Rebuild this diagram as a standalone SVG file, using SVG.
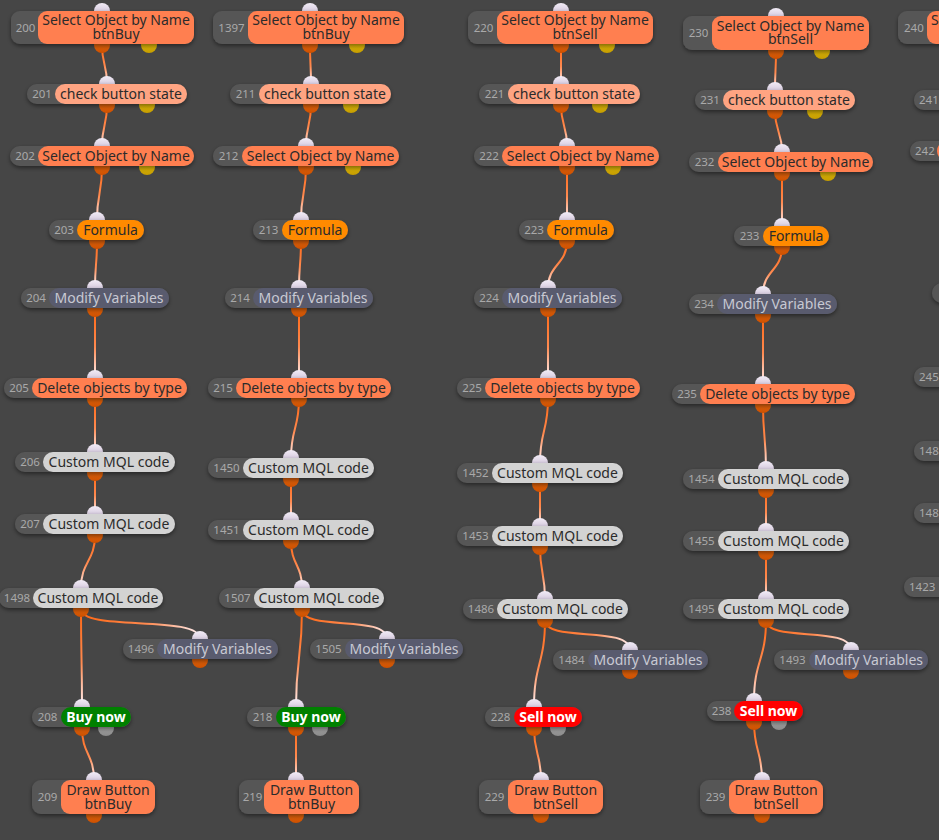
<svg xmlns="http://www.w3.org/2000/svg" width="939" height="840" viewBox="0 0 939 840">
<style>
.bg{fill:#464646}
.idp{fill:#575757;filter:url(#sh)}
.coral{fill:#ff7f50}
.salmon{fill:#ffa482}
.formula{fill:#ff8a00}
.mod{fill:#595b6e}
.mql{fill:#d3d3d3}
.buy{fill:#008000}
.sell{fill:#ff0000}
.pin{fill:url(#gin)}
.pout{fill:url(#gout)}
.py{fill:url(#gy)}
.pg{fill:url(#gg)}
.wire{fill:none;stroke-width:2;stroke-linecap:round}
text{font-family:"Noto Sans","Open Sans","DejaVu Sans",sans-serif}
.id{font-size:11.5px;fill:#a9a9a9;text-anchor:middle}
.ids{font-size:11.5px;fill:#a9a9a9}
.lb{font-size:14px;fill:#2b2b2b;text-anchor:middle}
.lm{fill:#c8c9d3}
.lw{fill:#fff;font-weight:bold}
</style>
<defs>
<filter id="sh" x="-10%" y="-30%" width="120%" height="180%"><feDropShadow dx="0" dy="2" stdDeviation="2" flood-color="#000" flood-opacity="0.45"/></filter>
<linearGradient id="gin" x1="0" y1="0" x2="0" y2="1"><stop offset="0" stop-color="#f2ecf6"/><stop offset="0.5" stop-color="#d8cde0"/><stop offset="1" stop-color="#9d8ea8"/></linearGradient>
<linearGradient id="gout" x1="0" y1="0" x2="0" y2="1"><stop offset="0" stop-color="#f47416"/><stop offset="1" stop-color="#cc5000"/></linearGradient>
<linearGradient id="gy" x1="0" y1="0" x2="0" y2="1"><stop offset="0" stop-color="#f4cf10"/><stop offset="1" stop-color="#c49c00"/></linearGradient>
<linearGradient id="gg" x1="0" y1="0" x2="0" y2="1"><stop offset="0" stop-color="#bdbdbd"/><stop offset="1" stop-color="#8a8a8a"/></linearGradient>
<linearGradient id="wg"><stop offset="0" stop-color="#ff6612"/><stop offset="0.55" stop-color="#ff8a50"/><stop offset="1" stop-color="#fff2f6"/></linearGradient>
<linearGradient id="w1" href="#wg" gradientUnits="userSpaceOnUse" x1="0" y1="45" x2="0" y2="84"/>
<linearGradient id="w2" href="#wg" gradientUnits="userSpaceOnUse" x1="0" y1="105" x2="0" y2="146"/>
<linearGradient id="w3" href="#wg" gradientUnits="userSpaceOnUse" x1="0" y1="167" x2="0" y2="220"/>
<linearGradient id="w4" href="#wg" gradientUnits="userSpaceOnUse" x1="0" y1="241" x2="0" y2="288"/>
<linearGradient id="w5" href="#wg" gradientUnits="userSpaceOnUse" x1="0" y1="309" x2="0" y2="378"/>
<linearGradient id="w6" href="#wg" gradientUnits="userSpaceOnUse" x1="0" y1="399" x2="0" y2="452"/>
<linearGradient id="w7" href="#wg" gradientUnits="userSpaceOnUse" x1="0" y1="473" x2="0" y2="514"/>
<linearGradient id="w8" href="#wg" gradientUnits="userSpaceOnUse" x1="0" y1="535" x2="0" y2="588"/>
<linearGradient id="w9" href="#wg" gradientUnits="userSpaceOnUse" x1="0" y1="609" x2="0" y2="707"/>
<linearGradient id="w10" href="#wg" gradientUnits="userSpaceOnUse" x1="81" y1="609" x2="200" y2="639"/>
<linearGradient id="w11" href="#wg" gradientUnits="userSpaceOnUse" x1="0" y1="728" x2="0" y2="780"/>
<linearGradient id="w15" href="#wg" gradientUnits="userSpaceOnUse" x1="0" y1="399" x2="0" y2="458"/>
<linearGradient id="w16" href="#wg" gradientUnits="userSpaceOnUse" x1="0" y1="479" x2="0" y2="520"/>
<linearGradient id="w17" href="#wg" gradientUnits="userSpaceOnUse" x1="0" y1="541" x2="0" y2="588"/>
<linearGradient id="w21" href="#wg" gradientUnits="userSpaceOnUse" x1="302" y1="609" x2="387" y2="639"/>
<linearGradient id="w28" href="#wg" gradientUnits="userSpaceOnUse" x1="0" y1="399" x2="0" y2="463"/>
<linearGradient id="w29" href="#wg" gradientUnits="userSpaceOnUse" x1="0" y1="484" x2="0" y2="526"/>
<linearGradient id="w30" href="#wg" gradientUnits="userSpaceOnUse" x1="0" y1="547" x2="0" y2="599"/>
<linearGradient id="w31" href="#wg" gradientUnits="userSpaceOnUse" x1="0" y1="620" x2="0" y2="707"/>
<linearGradient id="w32" href="#wg" gradientUnits="userSpaceOnUse" x1="545" y1="620" x2="630" y2="650"/>
<linearGradient id="w34" href="#wg" gradientUnits="userSpaceOnUse" x1="0" y1="51" x2="0" y2="90"/>
<linearGradient id="w35" href="#wg" gradientUnits="userSpaceOnUse" x1="0" y1="111" x2="0" y2="152"/>
<linearGradient id="w36" href="#wg" gradientUnits="userSpaceOnUse" x1="0" y1="173" x2="0" y2="226"/>
<linearGradient id="w37" href="#wg" gradientUnits="userSpaceOnUse" x1="0" y1="247" x2="0" y2="294"/>
<linearGradient id="w38" href="#wg" gradientUnits="userSpaceOnUse" x1="0" y1="315" x2="0" y2="384"/>
<linearGradient id="w39" href="#wg" gradientUnits="userSpaceOnUse" x1="0" y1="405" x2="0" y2="469"/>
<linearGradient id="w40" href="#wg" gradientUnits="userSpaceOnUse" x1="0" y1="490" x2="0" y2="531"/>
<linearGradient id="w41" href="#wg" gradientUnits="userSpaceOnUse" x1="0" y1="552" x2="0" y2="599"/>
<linearGradient id="w42" href="#wg" gradientUnits="userSpaceOnUse" x1="0" y1="620" x2="0" y2="701"/>
<linearGradient id="w43" href="#wg" gradientUnits="userSpaceOnUse" x1="766" y1="620" x2="851" y2="650"/>
<linearGradient id="w44" href="#wg" gradientUnits="userSpaceOnUse" x1="0" y1="722" x2="0" y2="780"/>
</defs>
<rect class="bg" x="0" y="0" width="939" height="840"/>

<g id="connectors" class="wire">
<path stroke="url(#w1)" d="M102 45 C102 64.5 107 64.5 107 84"/>
<path stroke="url(#w2)" d="M107 105 C107 125.5 102 125.5 102 146"/>
<path stroke="url(#w3)" d="M102 167 C102 193.5 97 193.5 97 220"/>
<path stroke="url(#w4)" d="M97 241 C97 264.5 95 264.5 95 288"/>
<path stroke="url(#w5)" d="M95 309 C95 343.5 95 343.5 95 378"/>
<path stroke="url(#w6)" d="M95 399 C95 425.5 95 425.5 95 452"/>
<path stroke="url(#w7)" d="M95 473 C95 493.5 95 493.5 95 514"/>
<path stroke="url(#w8)" d="M95 535 C95 561.5 81 561.5 81 588"/>
<path stroke="url(#w9)" d="M81 609 C81 658 82 658 82 707"/>
<path stroke="url(#w10)" d="M81 609 C81 632 200 614 200 639"/>
<path stroke="url(#w11)" d="M82 728 C82 754 94 754 94 780"/>

<path stroke="url(#w1)" d="M310 45 C310 64.5 311 64.5 311 84"/>
<path stroke="url(#w2)" d="M311 105 C311 125.5 306 125.5 306 146"/>
<path stroke="url(#w3)" d="M306 167 C306 193.5 301 193.5 301 220"/>
<path stroke="url(#w4)" d="M301 241 C301 264.5 299 264.5 299 288"/>
<path stroke="url(#w5)" d="M299 309 C299 343.5 299 343.5 299 378"/>
<path stroke="url(#w15)" d="M299 399 C299 428.5 291 428.5 291 458"/>
<path stroke="url(#w16)" d="M291 479 C291 499.5 291 499.5 291 520"/>
<path stroke="url(#w17)" d="M291 541 C291 564.5 302 564.5 302 588"/>
<path stroke="url(#w9)" d="M302 609 C302 658 296 658 296 707"/>
<path stroke="url(#w21)" d="M302 609 C302 632 387 614 387 639"/>
<path stroke="url(#w11)" d="M296 728 C296 754 296 754 296 780"/>

<path stroke="url(#w1)" d="M561 45 C561 64.5 561 64.5 561 84"/>
<path stroke="url(#w2)" d="M561 105 C561 125.5 567 125.5 567 146"/>
<path stroke="url(#w3)" d="M567 167 C567 193.5 567 193.5 567 220"/>
<path stroke="url(#w4)" d="M567 241 C567 264.5 548 264.5 548 288"/>
<path stroke="url(#w5)" d="M548 309 C548 343.5 548 343.5 548 378"/>
<path stroke="url(#w28)" d="M548 399 C548 431 540 431 540 463"/>
<path stroke="url(#w29)" d="M540 484 C540 505 540 505 540 526"/>
<path stroke="url(#w30)" d="M540 547 C540 573 545 573 545 599"/>
<path stroke="url(#w31)" d="M545 620 C545 663.5 534 663.5 534 707"/>
<path stroke="url(#w32)" d="M545 620 C545 643 630 625 630 650"/>
<path stroke="url(#w11)" d="M534 728 C534 754 541 754 541 780"/>

<path stroke="url(#w34)" d="M776 51 C776 70.5 775 70.5 775 90"/>
<path stroke="url(#w35)" d="M775 111 C775 131.5 782 131.5 782 152"/>
<path stroke="url(#w36)" d="M782 173 C782 199.5 782 199.5 782 226"/>
<path stroke="url(#w37)" d="M782 247 C782 270.5 763 270.5 763 294"/>
<path stroke="url(#w38)" d="M763 315 C763 349.5 763 349.5 763 384"/>
<path stroke="url(#w39)" d="M763 405 C763 437 766 437 766 469"/>
<path stroke="url(#w40)" d="M766 490 C766 510.5 766 510.5 766 531"/>
<path stroke="url(#w41)" d="M766 552 C766 575.5 766 575.5 766 599"/>
<path stroke="url(#w42)" d="M766 620 C766 660.5 754 660.5 754 701"/>
<path stroke="url(#w43)" d="M766 620 C766 643 851 625 851 650"/>
<path stroke="url(#w44)" d="M754 722 C754 751 762 751 762 780"/>
</g>

<!-- Column 1 -->
<g id="n200"><circle class="pin" cx="102" cy="11" r="8"/><circle class="pout" cx="102" cy="45" r="8"/><circle class="py" cx="149" cy="45" r="8"/>
<rect class="idp" x="11" y="11" width="183" height="33" rx="9"/><rect class="coral" x="38" y="11" width="156" height="33" rx="9"/>
<text class="id" x="25.5" y="31.5">200</text><text class="lb" y="25"><tspan x="116">Select Object by Name</tspan><tspan x="116" dy="13.5">btnBuy</tspan></text></g>
<g id="n201"><circle class="pin" cx="107" cy="84" r="8"/><circle class="pout" cx="107" cy="105" r="8"/><circle class="py" cx="147" cy="105" r="8"/>
<rect class="idp" x="27" y="84" width="160" height="20" rx="10"/><rect class="salmon" x="55" y="84" width="132" height="20" rx="10"/>
<text class="id" x="42" y="98">201</text><text class="lb" x="121" y="99">check button state</text></g>
<g id="n202"><circle class="pin" cx="102" cy="146" r="8"/><circle class="pout" cx="102" cy="167" r="8"/><circle class="py" cx="147" cy="167" r="8"/>
<rect class="idp" x="10" y="146" width="184" height="20" rx="10"/><rect class="coral" x="38" y="146" width="156" height="20" rx="10"/>
<text class="id" x="25" y="160">202</text><text class="lb" x="116" y="161">Select Object by Name</text></g>
<g id="n203"><circle class="pin" cx="97" cy="220" r="8"/><circle class="pout" cx="97" cy="241" r="8"/>
<rect class="idp" x="49" y="220" width="95" height="20" rx="10"/><rect class="formula" x="77" y="220" width="67" height="20" rx="10"/>
<text class="id" x="64" y="234">203</text><text class="lb" x="110.5" y="235">Formula</text></g>
<g id="n204"><circle class="pin" cx="95" cy="288" r="8"/><circle class="pout" cx="95" cy="309" r="8"/>
<rect class="idp" x="21" y="288" width="148" height="20" rx="10"/><rect class="mod" x="49" y="288" width="120" height="20" rx="10"/>
<text class="id" x="36" y="302">204</text><text class="lb lm" x="109" y="303">Modify Variables</text></g>
<g id="n205"><circle class="pin" cx="95" cy="378" r="8"/><circle class="pout" cx="95" cy="399" r="8"/>
<rect class="idp" x="4" y="378" width="183" height="20" rx="10"/><rect class="coral" x="32" y="378" width="155" height="20" rx="10"/>
<text class="id" x="19" y="392">205</text><text class="lb" x="109.5" y="393">Delete objects by type</text></g>
<g id="n206"><circle class="pin" cx="95" cy="452" r="8"/><circle class="pout" cx="95" cy="473" r="8"/>
<rect class="idp" x="15" y="452" width="160" height="20" rx="10"/><rect class="mql" x="43" y="452" width="132" height="20" rx="10"/>
<text class="id" x="30" y="466">206</text><text class="lb" x="109" y="467">Custom MQL code</text></g>
<g id="n207"><circle class="pin" cx="95" cy="514" r="8"/><circle class="pout" cx="95" cy="535" r="8"/>
<rect class="idp" x="15" y="514" width="160" height="20" rx="10"/><rect class="mql" x="43" y="514" width="132" height="20" rx="10"/>
<text class="id" x="30" y="528">207</text><text class="lb" x="109" y="529">Custom MQL code</text></g>
<g id="n1498"><circle class="pin" cx="81" cy="588" r="8"/><circle class="pout" cx="81" cy="609" r="8"/>
<rect class="idp" x="-1" y="588" width="164" height="20" rx="10"/><rect class="mql" x="33" y="588" width="130" height="20" rx="10"/>
<text class="id" x="17" y="602">1498</text><text class="lb" x="98" y="603">Custom MQL code</text></g>
<g id="n1496"><circle class="pin" cx="200" cy="639" r="8"/><circle class="pout" cx="200" cy="660" r="8"/>
<rect class="idp" x="123" y="639" width="155" height="20" rx="10"/><rect class="mod" x="157" y="639" width="121" height="20" rx="10"/>
<text class="id" x="141" y="653">1496</text><text class="lb lm" x="217.5" y="654">Modify Variables</text></g>
<g id="n208"><circle class="pin" cx="82" cy="707" r="8"/><circle class="pout" cx="82" cy="728" r="8"/><circle class="pg" cx="106" cy="728" r="8"/>
<rect class="idp" x="32" y="707" width="99" height="20" rx="10"/><rect class="buy" x="61" y="707" width="70" height="20" rx="10"/>
<text class="id" x="47.5" y="721">208</text><text class="lb lw" x="96" y="722">Buy now</text></g>
<g id="n209"><circle class="pin" cx="94" cy="780" r="8"/><circle class="pout" cx="94" cy="815" r="8"/>
<rect class="idp" x="32" y="780" width="123" height="34" rx="9"/><rect class="coral" x="61" y="780" width="94" height="34" rx="9"/>
<text class="id" x="47.5" y="801">209</text><text class="lb" y="795"><tspan x="108">Draw Button</tspan><tspan x="108" dy="13.5">btnBuy</tspan></text></g>

<!-- Column 2 -->
<g id="n1397"><circle class="pin" cx="310" cy="11" r="8"/><circle class="pout" cx="310" cy="45" r="8"/><circle class="py" cx="357" cy="45" r="8"/>
<rect class="idp" x="213" y="11" width="191" height="33" rx="9"/><rect class="coral" x="248" y="11" width="156" height="33" rx="9"/>
<text class="id" x="231.5" y="31.5">1397</text><text class="lb" y="25"><tspan x="326">Select Object by Name</tspan><tspan x="326" dy="13.5">btnBuy</tspan></text></g>
<g id="n211"><circle class="pin" cx="311" cy="84" r="8"/><circle class="pout" cx="311" cy="105" r="8"/><circle class="py" cx="351" cy="105" r="8"/>
<rect class="idp" x="230" y="84" width="161" height="20" rx="10"/><rect class="salmon" x="259" y="84" width="132" height="20" rx="10"/>
<text class="id" x="245.5" y="98">211</text><text class="lb" x="325" y="99">check button state</text></g>
<g id="n212"><circle class="pin" cx="306" cy="146" r="8"/><circle class="pout" cx="306" cy="167" r="8"/><circle class="py" cx="353" cy="167" r="8"/>
<rect class="idp" x="213" y="146" width="186" height="20" rx="10"/><rect class="coral" x="242" y="146" width="157" height="20" rx="10"/>
<text class="id" x="228.5" y="160">212</text><text class="lb" x="320.5" y="161">Select Object by Name</text></g>
<g id="n213"><circle class="pin" cx="301" cy="220" r="8"/><circle class="pout" cx="301" cy="241" r="8"/>
<rect class="idp" x="253" y="220" width="95" height="20" rx="10"/><rect class="formula" x="282" y="220" width="66" height="20" rx="10"/>
<text class="id" x="268.5" y="234">213</text><text class="lb" x="315" y="235">Formula</text></g>
<g id="n214"><circle class="pin" cx="299" cy="288" r="8"/><circle class="pout" cx="299" cy="309" r="8"/>
<rect class="idp" x="225" y="288" width="148" height="20" rx="10"/><rect class="mod" x="253" y="288" width="120" height="20" rx="10"/>
<text class="id" x="240" y="302">214</text><text class="lb lm" x="313" y="303">Modify Variables</text></g>
<g id="n215"><circle class="pin" cx="299" cy="378" r="8"/><circle class="pout" cx="299" cy="399" r="8"/>
<rect class="idp" x="208" y="378" width="183" height="20" rx="10"/><rect class="coral" x="236" y="378" width="155" height="20" rx="10"/>
<text class="id" x="223" y="392">215</text><text class="lb" x="313.5" y="393">Delete objects by type</text></g>
<g id="n1450"><circle class="pin" cx="291" cy="458" r="8"/><circle class="pout" cx="291" cy="479" r="8"/>
<rect class="idp" x="208" y="458" width="166" height="20" rx="10"/><rect class="mql" x="243" y="458" width="131" height="20" rx="10"/>
<text class="id" x="226.5" y="472">1450</text><text class="lb" x="308.5" y="473">Custom MQL code</text></g>
<g id="n1451"><circle class="pin" cx="291" cy="520" r="8"/><circle class="pout" cx="291" cy="541" r="8"/>
<rect class="idp" x="208" y="520" width="166" height="20" rx="10"/><rect class="mql" x="243" y="520" width="131" height="20" rx="10"/>
<text class="id" x="226.5" y="534">1451</text><text class="lb" x="308.5" y="535">Custom MQL code</text></g>
<g id="n1507"><circle class="pin" cx="302" cy="588" r="8"/><circle class="pout" cx="302" cy="609" r="8"/>
<rect class="idp" x="219" y="588" width="165" height="20" rx="10"/><rect class="mql" x="254" y="588" width="130" height="20" rx="10"/>
<text class="id" x="237.5" y="602">1507</text><text class="lb" x="319" y="603">Custom MQL code</text></g>
<g id="n1505"><circle class="pin" cx="387" cy="639" r="8"/><circle class="pout" cx="387" cy="660" r="8"/>
<rect class="idp" x="310" y="639" width="153" height="20" rx="10"/><rect class="mod" x="345" y="639" width="118" height="20" rx="10"/>
<text class="id" x="328.5" y="653">1505</text><text class="lb lm" x="404" y="654">Modify Variables</text></g>
<g id="n218"><circle class="pin" cx="296" cy="707" r="8"/><circle class="pout" cx="296" cy="728" r="8"/><circle class="pg" cx="320" cy="728" r="8"/>
<rect class="idp" x="247" y="707" width="99" height="20" rx="10"/><rect class="buy" x="276" y="707" width="70" height="20" rx="10"/>
<text class="id" x="262.5" y="721">218</text><text class="lb lw" x="311" y="722">Buy now</text></g>
<g id="n219"><circle class="pin" cx="296" cy="780" r="8"/><circle class="pout" cx="296" cy="815" r="8"/>
<rect class="idp" x="239" y="780" width="120" height="34" rx="9"/><rect class="coral" x="264" y="780" width="95" height="34" rx="9"/>
<text class="id" x="252.5" y="801">219</text><text class="lb" y="795"><tspan x="311.5">Draw Button</tspan><tspan x="311.5" dy="13.5">btnBuy</tspan></text></g>

<!-- Column 3 -->
<g id="n220"><circle class="pin" cx="561" cy="11" r="8"/><circle class="pout" cx="561" cy="45" r="8"/><circle class="py" cx="607" cy="45" r="8"/>
<rect class="idp" x="468" y="11" width="185" height="33" rx="9"/><rect class="coral" x="497" y="11" width="156" height="33" rx="9"/>
<text class="id" x="483.5" y="31.5">220</text><text class="lb" y="25"><tspan x="575">Select Object by Name</tspan><tspan x="575" dy="13.5">btnSell</tspan></text></g>
<g id="n221"><circle class="pin" cx="561" cy="84" r="8"/><circle class="pout" cx="561" cy="105" r="8"/><circle class="py" cx="600" cy="105" r="8"/>
<rect class="idp" x="479" y="84" width="161" height="20" rx="10"/><rect class="salmon" x="508" y="84" width="132" height="20" rx="10"/>
<text class="id" x="494.5" y="98">221</text><text class="lb" x="574" y="99">check button state</text></g>
<g id="n222"><circle class="pin" cx="567" cy="146" r="8"/><circle class="pout" cx="567" cy="167" r="8"/><circle class="py" cx="613" cy="167" r="8"/>
<rect class="idp" x="474" y="146" width="185" height="20" rx="10"/><rect class="coral" x="502" y="146" width="157" height="20" rx="10"/>
<text class="id" x="489" y="160">222</text><text class="lb" x="580.5" y="161">Select Object by Name</text></g>
<g id="n223"><circle class="pin" cx="567" cy="220" r="8"/><circle class="pout" cx="567" cy="241" r="8"/>
<rect class="idp" x="519" y="220" width="95" height="20" rx="10"/><rect class="formula" x="547" y="220" width="67" height="20" rx="10"/>
<text class="id" x="534" y="234">223</text><text class="lb" x="580.5" y="235">Formula</text></g>
<g id="n224"><circle class="pin" cx="548" cy="288" r="8"/><circle class="pout" cx="548" cy="309" r="8"/>
<rect class="idp" x="474" y="288" width="148" height="20" rx="10"/><rect class="mod" x="502" y="288" width="120" height="20" rx="10"/>
<text class="id" x="489" y="302">224</text><text class="lb lm" x="562" y="303">Modify Variables</text></g>
<g id="n225"><circle class="pin" cx="548" cy="378" r="8"/><circle class="pout" cx="548" cy="399" r="8"/>
<rect class="idp" x="457" y="378" width="183" height="20" rx="10"/><rect class="coral" x="485" y="378" width="155" height="20" rx="10"/>
<text class="id" x="472" y="392">225</text><text class="lb" x="562.5" y="393">Delete objects by type</text></g>
<g id="n1452"><circle class="pin" cx="540" cy="463" r="8"/><circle class="pout" cx="540" cy="484" r="8"/>
<rect class="idp" x="457" y="463" width="166" height="20" rx="10"/><rect class="mql" x="492" y="463" width="131" height="20" rx="10"/>
<text class="id" x="475.5" y="477">1452</text><text class="lb" x="557.5" y="478">Custom MQL code</text></g>
<g id="n1453"><circle class="pin" cx="540" cy="526" r="8"/><circle class="pout" cx="540" cy="547" r="8"/>
<rect class="idp" x="457" y="526" width="166" height="20" rx="10"/><rect class="mql" x="492" y="526" width="131" height="20" rx="10"/>
<text class="id" x="475.5" y="540">1453</text><text class="lb" x="557.5" y="541">Custom MQL code</text></g>
<g id="n1486"><circle class="pin" cx="545" cy="599" r="8"/><circle class="pout" cx="545" cy="620" r="8"/>
<rect class="idp" x="463" y="599" width="165" height="20" rx="10"/><rect class="mql" x="497" y="599" width="131" height="20" rx="10"/>
<text class="id" x="481" y="613">1486</text><text class="lb" x="562.5" y="614">Custom MQL code</text></g>
<g id="n1484"><circle class="pin" cx="630" cy="650" r="8"/><circle class="pout" cx="630" cy="671" r="8"/>
<rect class="idp" x="553" y="650" width="155" height="20" rx="10"/><rect class="mod" x="588" y="650" width="120" height="20" rx="10"/>
<text class="id" x="571.5" y="664">1484</text><text class="lb lm" x="648" y="665">Modify Variables</text></g>
<g id="n228"><circle class="pin" cx="534" cy="707" r="8"/><circle class="pout" cx="534" cy="728" r="8"/><circle class="pg" cx="558" cy="728" r="8"/>
<rect class="idp" x="485" y="707" width="97" height="20" rx="10"/><rect class="sell" x="514" y="707" width="68" height="20" rx="10"/>
<text class="id" x="500.5" y="721">228</text><text class="lb lw" x="548" y="722">Sell now</text></g>
<g id="n229"><circle class="pin" cx="541" cy="780" r="8"/><circle class="pout" cx="541" cy="815" r="8"/>
<rect class="idp" x="479" y="780" width="124" height="34" rx="9"/><rect class="coral" x="508" y="780" width="95" height="34" rx="9"/>
<text class="id" x="494.5" y="801">229</text><text class="lb" y="795"><tspan x="555.5">Draw Button</tspan><tspan x="555.5" dy="13.5">btnSell</tspan></text></g>

<!-- Column 4 -->
<g id="n230"><circle class="pin" cx="776" cy="16" r="8"/><circle class="pout" cx="776" cy="51" r="8"/><circle class="py" cx="822" cy="51" r="8"/>
<rect class="idp" x="683" y="16" width="186" height="34" rx="9"/><rect class="coral" x="712" y="16" width="157" height="34" rx="9"/>
<text class="id" x="698.5" y="37">230</text><text class="lb" y="31"><tspan x="790.5">Select Object by Name</tspan><tspan x="790.5" dy="13">btnSell</tspan></text></g>
<g id="n231"><circle class="pin" cx="775" cy="90" r="8"/><circle class="pout" cx="775" cy="111" r="8"/><circle class="py" cx="815" cy="111" r="8"/>
<rect class="idp" x="695" y="90" width="160" height="20" rx="10"/><rect class="salmon" x="723" y="90" width="132" height="20" rx="10"/>
<text class="id" x="710" y="104">231</text><text class="lb" x="789" y="105">check button state</text></g>
<g id="n232"><circle class="pin" cx="782" cy="152" r="8"/><circle class="pout" cx="782" cy="173" r="8"/><circle class="py" cx="828" cy="173" r="8"/>
<rect class="idp" x="689" y="152" width="184" height="20" rx="10"/><rect class="coral" x="718" y="152" width="155" height="20" rx="10"/>
<text class="id" x="704.5" y="166">232</text><text class="lb" x="795.5" y="167">Select Object by Name</text></g>
<g id="n233"><circle class="pin" cx="782" cy="226" r="8"/><circle class="pout" cx="782" cy="247" r="8"/>
<rect class="idp" x="734" y="226" width="95" height="20" rx="10"/><rect class="formula" x="763" y="226" width="66" height="20" rx="10"/>
<text class="id" x="749.5" y="240">233</text><text class="lb" x="796" y="241">Formula</text></g>
<g id="n234"><circle class="pin" cx="763" cy="294" r="8"/><circle class="pout" cx="763" cy="315" r="8"/>
<rect class="idp" x="689" y="294" width="148" height="20" rx="10"/><rect class="mod" x="717" y="294" width="120" height="20" rx="10"/>
<text class="id" x="704" y="308">234</text><text class="lb lm" x="777" y="309">Modify Variables</text></g>
<g id="n235"><circle class="pin" cx="763" cy="384" r="8"/><circle class="pout" cx="763" cy="405" r="8"/>
<rect class="idp" x="672" y="384" width="183" height="20" rx="10"/><rect class="coral" x="700" y="384" width="155" height="20" rx="10"/>
<text class="id" x="687" y="398">235</text><text class="lb" x="777.5" y="399">Delete objects by type</text></g>
<g id="n1454"><circle class="pin" cx="766" cy="469" r="8"/><circle class="pout" cx="766" cy="490" r="8"/>
<rect class="idp" x="683" y="469" width="166" height="20" rx="10"/><rect class="mql" x="718" y="469" width="131" height="20" rx="10"/>
<text class="id" x="701.5" y="483">1454</text><text class="lb" x="783.5" y="484">Custom MQL code</text></g>
<g id="n1455"><circle class="pin" cx="766" cy="531" r="8"/><circle class="pout" cx="766" cy="552" r="8"/>
<rect class="idp" x="683" y="531" width="166" height="20" rx="10"/><rect class="mql" x="718" y="531" width="131" height="20" rx="10"/>
<text class="id" x="701.5" y="545">1455</text><text class="lb" x="783.5" y="546">Custom MQL code</text></g>
<g id="n1495"><circle class="pin" cx="766" cy="599" r="8"/><circle class="pout" cx="766" cy="620" r="8"/>
<rect class="idp" x="683" y="599" width="166" height="20" rx="10"/><rect class="mql" x="718" y="599" width="131" height="20" rx="10"/>
<text class="id" x="701.5" y="613">1495</text><text class="lb" x="783.5" y="614">Custom MQL code</text></g>
<g id="n1493"><circle class="pin" cx="851" cy="650" r="8"/><circle class="pout" cx="851" cy="671" r="8"/>
<rect class="idp" x="774" y="650" width="154" height="20" rx="10"/><rect class="mod" x="809" y="650" width="119" height="20" rx="10"/>
<text class="id" x="792.5" y="664">1493</text><text class="lb lm" x="868.5" y="665">Modify Variables</text></g>
<g id="n238"><circle class="pin" cx="754" cy="701" r="8"/><circle class="pout" cx="754" cy="722" r="8"/><circle class="pg" cx="779" cy="722" r="8"/>
<rect class="idp" x="707" y="701" width="96" height="20" rx="10"/><rect class="sell" x="734" y="701" width="69" height="20" rx="10"/>
<text class="id" x="721.5" y="715">238</text><text class="lb lw" x="768.5" y="716">Sell now</text></g>
<g id="n239"><circle class="pin" cx="762" cy="780" r="8"/><circle class="pout" cx="762" cy="815" r="8"/>
<rect class="idp" x="700" y="780" width="123" height="34" rx="9"/><rect class="coral" x="729" y="780" width="94" height="34" rx="9"/>
<text class="id" x="715.5" y="801">239</text><text class="lb" y="795"><tspan x="776">Draw Button</tspan><tspan x="776" dy="13.5">btnSell</tspan></text></g>

<!-- Column 5 (cut off at right edge) -->
<g id="n240"><rect class="idp" x="898" y="11" width="200" height="33" rx="9"/><rect class="coral" x="927" y="11" width="200" height="33" rx="9"/>
<text class="ids" x="904" y="31.5">240</text><text class="lb" style="text-anchor:start" x="931" y="25">S</text></g>
<g id="n241"><rect class="idp" x="914" y="90" width="60" height="20" rx="10"/><text class="ids" x="919" y="104">241</text></g>
<g id="n242"><rect class="idp" x="910" y="141" width="60" height="20" rx="10"/><rect class="coral" x="937" y="141" width="40" height="20" rx="10"/><text class="ids" x="915" y="155">242</text></g>
<g id="n24x"><rect class="idp" x="932" y="283" width="40" height="20" rx="10"/></g>
<g id="n245"><rect class="idp" x="914" y="367" width="60" height="20" rx="10"/><text class="ids" x="919" y="381">245</text></g>
<g id="n148a"><rect class="idp" x="914" y="441" width="60" height="20" rx="10"/><text class="ids" x="919" y="455">148</text></g>
<g id="n148b"><rect class="idp" x="914" y="503" width="60" height="20" rx="10"/><text class="ids" x="919" y="517">148</text></g>
<g id="n1423"><rect class="idp" x="904" y="577" width="60" height="20" rx="10"/><text class="ids" x="909" y="591">1423</text></g>
</svg>
